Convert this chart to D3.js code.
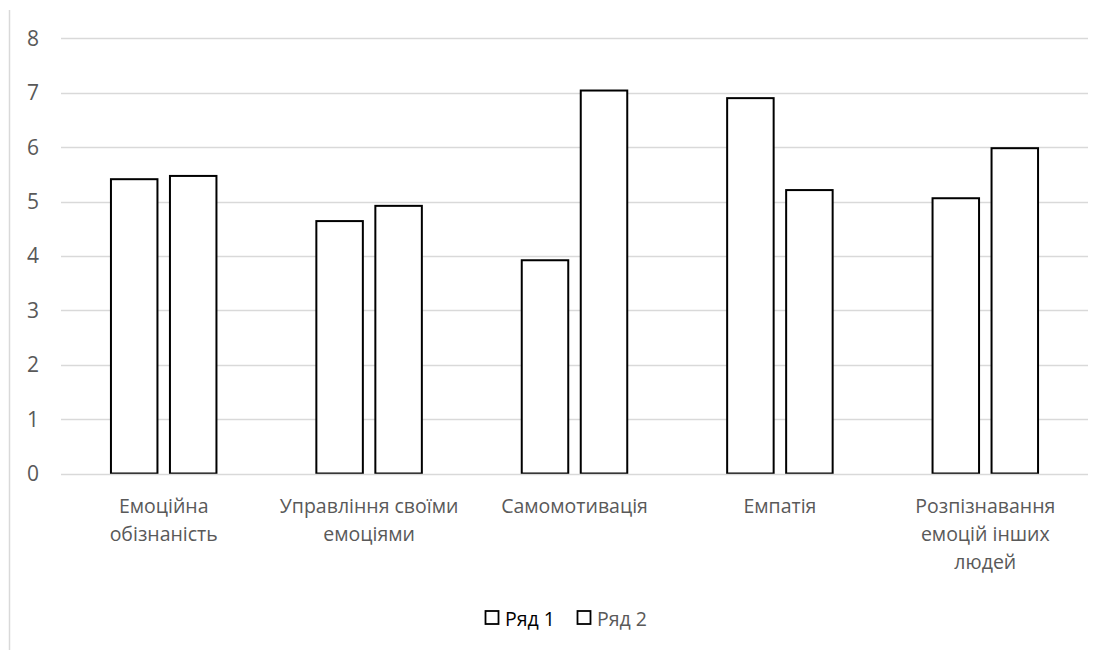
<!DOCTYPE html>
<html><head><meta charset="utf-8">
<script src="https://cdn.jsdelivr.net/npm/d3@7"></script>
<style>
html,body{margin:0;padding:0;background:#fff;}
text{font-family:"Open Sans","Noto Sans",sans-serif;}
</style></head>
<body>
<svg id="chart" width="1113" height="650"></svg>
<script>
const categories = [
  ["Емоційна", "обізнаність"],
  ["Управління своїми", "емоціями"],
  ["Самомотивація"],
  ["Емпатія"],
  ["Розпізнавання", "емоцій інших", "людей"]
];
const seriesNames = ["Ряд 1", "Ряд 2"];
const series1 = [5.41, 4.64, 3.92, 6.90, 5.06];
const series2 = [5.47, 4.92, 7.04, 5.21, 5.98];
const yTicks = [0, 1, 2, 3, 4, 5, 6, 7, 8];

(function () {
const svg = d3.select("#chart");
const pLeft = 61, pRight = 1088, pTop = 38.3, pBottom = 473.5;
const fs = 19.5;

// chart area left border
svg.append("line").attr("x1", 9.5).attr("x2", 9.5).attr("y1", 10).attr("y2", 650)
  .attr("stroke", "#d9d9d9").attr("stroke-width", 1.5);

const x0 = d3.scaleBand().domain(d3.range(categories.length)).range([pLeft, pRight]);
const y = d3.scaleLinear().domain([0, 8]).range([pBottom, pTop]);

// gridlines
svg.append("g").selectAll("line").data(yTicks.filter(d => d > 0)).join("line")
  .attr("x1", pLeft).attr("x2", pRight)
  .attr("y1", d => Math.round(y(d)) + 0.5).attr("y2", d => Math.round(y(d)) + 0.5)
  .attr("stroke", "#d9d9d9").attr("stroke-width", 1.5);

// y tick labels
svg.append("g").selectAll("text").data(yTicks).join("text")
  .attr("x", 39).attr("y", d => y(d)).attr("dy", "0.36em")
  .attr("text-anchor", "end").attr("fill", "#595959").attr("font-size", 21)
  .text(d => d);

// bars
const barW = 46.5, gap = 12.5;
const data = [series1, series2];
data.forEach((vals, si) => {
  svg.append("g").selectAll("rect").data(vals).join("rect")
    .attr("x", (d, i) => x0(i) + x0.bandwidth() / 2 - (2 * barW + gap) / 2 + si * (barW + gap))
    .attr("y", d => y(d))
    .attr("width", barW)
    .attr("height", d => pBottom - y(d))
    .attr("fill", "#fff").attr("stroke", "#000").attr("stroke-width", 2);
});

// zero axis line
svg.append("line").attr("x1", pLeft).attr("x2", pRight)
  .attr("y1", Math.round(pBottom) + 0.5).attr("y2", Math.round(pBottom) + 0.5)
  .attr("stroke", "#d9d9d9").attr("stroke-width", 1.5);

// category labels
const cat = svg.append("g").selectAll("text").data(categories).join("text")
  .attr("text-anchor", "middle").attr("fill", "#595959").attr("font-size", fs)
  .attr("x", (d, i) => x0(i) + x0.bandwidth() / 2);
cat.selectAll("tspan").data(d => d).join("tspan")
  .attr("x", function () { return d3.select(this.parentNode).attr("x"); })
  .attr("y", (d, j) => 513 + j * 27.8)
  .text(d => d);

// legend
const legX = [485, 577];
const legColors = ["#000", "#595959"];
seriesNames.forEach((n, i) => {
  svg.append("rect").attr("x", legX[i] + 0.5).attr("y", 611).attr("width", 13).attr("height", 13)
    .attr("fill", "#fff").attr("stroke", "#000").attr("stroke-width", 1.8);
  svg.append("text").attr("x", legX[i] + 20).attr("y", 626)
    .attr("fill", legColors[i]).attr("font-size", fs).text(n);
});
})();
</script>
</body></html>
